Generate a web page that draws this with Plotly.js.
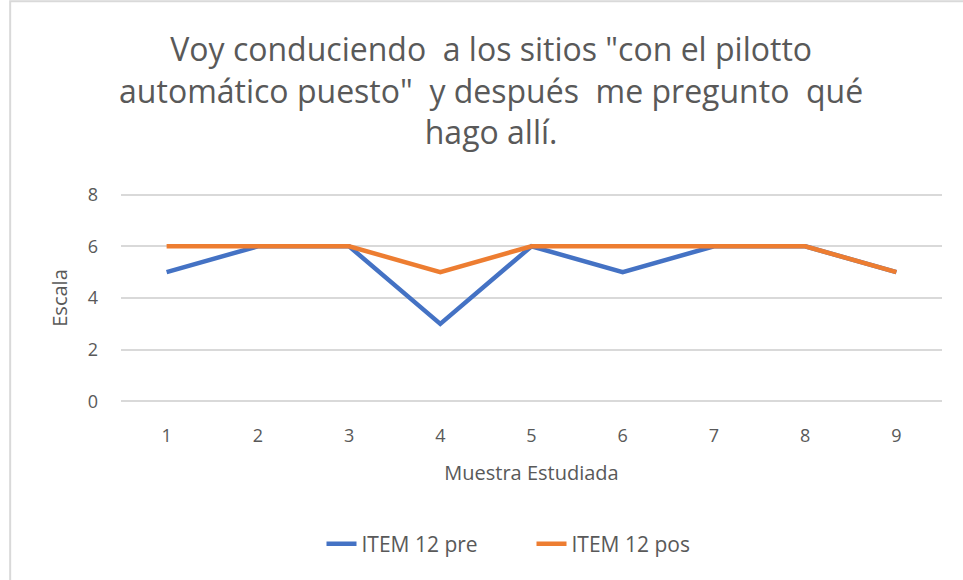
<!DOCTYPE html>
<html><head><meta charset="utf-8">
<script src="https://cdn.plot.ly/plotly-3.0.1.min.js"></script>
<style>html,body{margin:0;padding:0;background:#fff}#c{width:963px;height:580px}</style>
</head><body><div id="c"></div>
<script>
const categories = ["1","2","3","4","5","6","7","8","9"];
const itemPre = [5,6,6,3,6,5,6,6,5];
const itemPos = [6,6,6,5,6,6,6,6,5];
const yTicks = [0,2,4,6,8];
const titleText = 'Voy conduciendo  a los sitios "con el pilotto<br>automático puesto"  y después  me pregunto  qué<br>hago allí.';

const font = "Open Sans, sans-serif";
const grey = "#595959";
const traces = [
  {x: categories, y: itemPre, type: "scatter", mode: "lines", name: "ITEM 12 pre",
   line: {color: "#4472C4", width: 4.5}},
  {x: categories, y: itemPos, type: "scatter", mode: "lines", name: "ITEM 12 pos",
   line: {color: "#ED7D31", width: 4.5}}
];
const layout = {
  width: 963, height: 580,
  margin: {l: 121, r: 21, t: 192, b: 176},
  paper_bgcolor: "#fff", plot_bgcolor: "#fff",
  title: {text: titleText, font: {family: font, size: 32, color: grey},
          x: 0.51, xanchor: "center", y: 0.895, yanchor: "top"},
  xaxis: {type: "category", range: [-0.5, 8.5], showgrid: false, zeroline: false,
          showline: false, ticks: "", ticklabelstandoff: 19,
          tickfont: {family: font, size: 18, color: grey},
          title: {text: "Muestra Estudiada", font: {family: font, size: 20, color: grey}, standoff: 19}},
  yaxis: {range: [-0.1, 8.1], tickvals: yTicks, showgrid: true, gridcolor: "#D9D9D9", gridwidth: 2,
          zeroline: false, showline: false, ticks: "", ticklabelstandoff: 22,
          tickfont: {family: font, size: 18, color: grey},
          title: {text: "Escala", font: {family: font, size: 20, color: grey}, standoff: 14}},
  showlegend: true,
  legend: {orientation: "h", x: 0.5, xanchor: "center", xref: "paper",
           yref: "container", y: 0.062, yanchor: "middle",
           font: {family: font, size: 21, color: grey}, entrywidth: 165, entrywidthmode: "pixels",
           traceorder: "normal"},
  shapes: [{type: "rect", xref: "paper", yref: "paper", x0: -0.135, x1: 1.05, y0: -1.5, y1: 1.9,
            line: {color: "#D9D9D9", width: 2}, fillcolor: "rgba(0,0,0,0)", layer: "below"}]
};
Plotly.newPlot("c", traces, layout, {displayModeBar: false, staticPlot: true});
</script></body></html>
